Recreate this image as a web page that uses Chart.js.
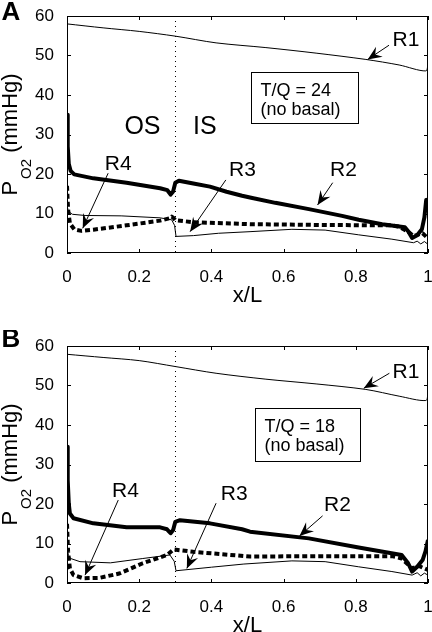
<!DOCTYPE html>
<html><head><meta charset="utf-8">
<script src="https://cdn.jsdelivr.net/npm/chart.js@4.4.0/dist/chart.umd.min.js"></script>
<style>
html,body{margin:0;padding:0;background:#fff;overflow:hidden;width:432px;height:632px;position:relative;}
.p{position:absolute;left:0;width:432px;height:330px;}
canvas{display:block;}
</style></head><body>
<div class="p" style="top:0"><canvas id="cA" width="432" height="330"></canvas></div>
<div class="p" style="top:330px"><canvas id="cB" width="432" height="330"></canvas></div>
<script>
// ---------- data ----------
const xTicks = [0, 0.2, 0.4, 0.6, 0.8, 1];
const yTicks = [0, 10, 20, 30, 40, 50, 60];

// Panel A (T/Q = 24)
const xR1A = [0, 0.1, 0.2, 0.3, 0.413, 0.551, 0.69, 0.828, 0.92, 0.994, 1.0];
const yR1A = [58, 57, 56.1, 54.9, 53.2, 52.0, 50.6, 49.0, 47.6, 46.1, 48];
const xR2A = [0, 0.002, 0.005, 0.01, 0.02, 0.073, 0.165, 0.258, 0.278, 0.287, 0.294, 0.30, 0.31, 0.35, 0.396, 0.442, 0.485, 0.51, 0.577, 0.67, 0.762, 0.808, 0.873, 0.936, 0.945, 0.956, 0.97, 0.983, 0.99, 0.995, 1.0];
const yR2A = [35, 27, 22.5, 20.8, 19.9, 18.9, 17.8, 16.4, 15.9, 14.8, 15.6, 17.8, 18.3, 17.6, 16.8, 15.5, 14.5, 14.0, 12.7, 11.1, 9.4, 8.4, 7.3, 6.5, 5.5, 3.8, 4.5, 6.0, 9, 13.4, 13.5];
const xR3A = [0, 0.004, 0.015, 0.05, 0.15, 0.258, 0.29, 0.298, 0.302, 0.35, 0.42, 0.507, 0.623, 0.715, 0.808, 0.9, 0.96, 0.97, 0.98, 0.99, 1.0];
const yR3A = [12, 10.5, 9.8, 9.5, 9.4, 8.9, 8.4, 7.0, 4.2, 4.4, 5.0, 5.4, 6.0, 5.8, 4.6, 3.5, 2.6, 3.0, 2.3, 2.9, 2.2];
const xR4A = [0, 0.003, 0.008, 0.02, 0.04, 0.073, 0.165, 0.258, 0.285, 0.29, 0.295, 0.3, 0.35, 0.507, 0.7, 0.9, 0.918, 0.945, 0.96, 0.985, 1.0];
const yR4A = [17, 11, 7.5, 6.0, 5.6, 5.9, 7.0, 8.2, 8.8, 9.2, 8.9, 8.3, 7.8, 7.3, 7.1, 7.0, 6.7, 5.4, 4.3, 5.0, 3.7];

// Panel B (T/Q = 18)
const xR1B = [0, 0.1, 0.2, 0.3, 0.413, 0.551, 0.69, 0.828, 0.92, 0.994, 1.0];
const yR1B = [57.9, 57.1, 56.3, 54.8, 53.1, 51.6, 50.4, 49.0, 47.3, 46.2, 48];
const xR2B = [0, 0.002, 0.005, 0.008, 0.018, 0.073, 0.165, 0.258, 0.277, 0.287, 0.294, 0.3, 0.313, 0.396, 0.485, 0.507, 0.67, 0.808, 0.927, 0.945, 0.956, 0.97, 0.985, 0.993, 1.0];
const yR2B = [34.5, 26, 20, 17.6, 16.4, 15.1, 14.1, 14.1, 13.6, 12.6, 13.4, 15.5, 15.9, 15.1, 13.6, 13.0, 11.3, 9.0, 7.1, 5.0, 2.9, 4.1, 5.8, 8, 10.9];
const xR3B = [0, 0.004, 0.01, 0.036, 0.12, 0.21, 0.285, 0.297, 0.302, 0.4, 0.49, 0.623, 0.715, 0.808, 0.9, 0.956, 0.97, 0.98, 0.99, 1.0];
const yR3B = [9, 7, 6.2, 5.4, 5.1, 6.2, 7.1, 5.5, 3.1, 4.0, 4.8, 5.6, 5.4, 4.1, 2.9, 2.0, 2.6, 1.8, 2.5, 2.0];
const xR4B = [0, 0.003, 0.008, 0.018, 0.045, 0.09, 0.145, 0.21, 0.277, 0.295, 0.35, 0.507, 0.7, 0.9, 0.927, 0.956, 0.975, 1.0];
const yR4B = [15, 8, 3.7, 2.0, 1.2, 1.3, 2.4, 5.0, 7.1, 8.5, 7.9, 6.7, 6.8, 6.8, 6.2, 3.7, 4.3, 3.3];

const boundaryX = 0.3;

// annotations (data coordinates)
const annA = {
  letter: 'A', letterY: 13,
  box: {x0: 0.51, x1: 0.806, yTop: 45.9, yBot: 32.8, lines: ['T/Q = 24', '(no basal)']},
  zones: [{t: 'OS', x: 0.209, y: 31.8}, {t: 'IS', x: 0.382, y: 31.8}],
  labels: [
    {t: 'R1', x: 0.939, y: 53.8, a: [0.892, 52.6, 0.833, 49.0]},
    {t: 'R4', x: 0.142, y: 22.5, a: [0.114, 20.2, 0.0435, 6.25]},
    {t: 'R3', x: 0.486, y: 20.9, a: [0.44, 18.5, 0.341, 5.4]},
    {t: 'R2', x: 0.766, y: 21.0, a: [0.736, 17.8, 0.694, 12.15]}
  ]
};
const annB = {
  letter: 'B', letterY: 10,
  box: {x0: 0.522, x1: 0.8125, yTop: 44.2, yBot: 31.0, lines: ['T/Q = 18', '(no basal)']},
  zones: [],
  labels: [
    {t: 'R1', x: 0.939, y: 53.4, a: [0.893, 53.1, 0.822, 49.3]},
    {t: 'R4', x: 0.162, y: 23.3, a: [0.142, 21.0, 0.05, 2.0]},
    {t: 'R3', x: 0.463, y: 22.5, a: [0.413, 20.2, 0.332, 3.7]},
    {t: 'R2', x: 0.749, y: 19.7, a: [0.708, 17.0, 0.644, 11.9]}
  ]
};

// ---------- drawing ----------
const FONT = '"Liberation Sans", Arial, Helvetica, sans-serif';
function pts(xs, ys) { return xs.map((x, i) => ({x: x, y: ys[i]})); }

function arrow(ctx, x0, y0, x1, y1) {
  ctx.beginPath(); ctx.moveTo(x0, y0); ctx.lineTo(x1, y1); ctx.lineWidth = 1; ctx.stroke();
  const ang = Math.atan2(y1 - y0, x1 - x0);
  const L = 14, W = 6, N = 9;
  const ux = Math.cos(ang), uy = Math.sin(ang);
  const px = -uy, py = ux;
  ctx.beginPath();
  ctx.moveTo(x1, y1);
  ctx.lineTo(x1 - ux * L + px * W, y1 - uy * L + py * W);
  ctx.lineTo(x1 - ux * N, y1 - uy * N);
  ctx.lineTo(x1 - ux * L - px * W, y1 - uy * L - py * W);
  ctx.closePath(); ctx.fill();
}

const decor = {
  id: 'decor',
  beforeDatasetsDraw(chart) {
    const {ctx, chartArea: ca, scales: {x}} = chart;
    const bx = Math.round(x.getPixelForValue(boundaryX)) + 0.5;
    ctx.save();
    ctx.strokeStyle = '#000'; ctx.lineWidth = 1; ctx.setLineDash([1, 4]);
    ctx.beginPath(); ctx.moveTo(bx, ca.top); ctx.lineTo(bx, ca.bottom); ctx.stroke();
    ctx.restore();
  },
  afterDraw(chart) {
    const {ctx, chartArea: ca, scales: {x, y}} = chart;
    const ann = chart.options.plugins.decor.ann;
    ctx.save();
    ctx.strokeStyle = '#000'; ctx.fillStyle = '#000'; ctx.lineWidth = 1; ctx.setLineDash([]);
    // frame
    ctx.strokeRect(ca.left + 0.5, ca.top + 0.5, ca.right - ca.left - 1, ca.bottom - ca.top - 1);
    // inner ticks
    const T = 4;
    ctx.beginPath();
    xTicks.forEach(v => {
      const px = Math.round(x.getPixelForValue(v)) + 0.5;
      ctx.moveTo(px, ca.bottom); ctx.lineTo(px, ca.bottom - T);
      ctx.moveTo(px, ca.top); ctx.lineTo(px, ca.top + T);
    });
    yTicks.forEach(v => {
      const py = Math.round(y.getPixelForValue(v)) + 0.5;
      ctx.moveTo(ca.left, py); ctx.lineTo(ca.left + T, py);
      ctx.moveTo(ca.right, py); ctx.lineTo(ca.right - T, py);
    });
    ctx.stroke();
    // panel letter
    ctx.font = 'bold 26px ' + FONT; ctx.textAlign = 'center'; ctx.textBaseline = 'middle';
    ctx.fillText(ann.letter, 11, ann.letterY);
    // y title with subscript, rotated
    const cy = (ca.top + ca.bottom) / 2;
    ctx.save();
    ctx.translate(17, cy); ctx.rotate(-Math.PI / 2);
    ctx.textAlign = 'left'; ctx.textBaseline = 'alphabetic';
    const fMain = '22px ' + FONT, fSub = '15px ' + FONT;
    ctx.font = fMain; const wP = ctx.measureText('P').width; const wR = ctx.measureText(' (mmHg)').width;
    ctx.font = fSub; const wS = ctx.measureText('O2').width;
    let sx = -(wP + 2 + wS + wR) / 2;
    ctx.font = fMain; ctx.fillText('P', sx, 0); sx += wP + 2;
    ctx.font = fSub; ctx.fillText('O2', sx, 14); sx += wS;
    ctx.font = fMain; ctx.fillText(' (mmHg)', sx, 0);
    ctx.restore();
    // zone labels
    ctx.font = '25px ' + FONT; ctx.textAlign = 'center'; ctx.textBaseline = 'middle';
    ann.zones.forEach(z => ctx.fillText(z.t, x.getPixelForValue(z.x), y.getPixelForValue(z.y)));
    // box
    const b = ann.box;
    const bx0 = Math.round(x.getPixelForValue(b.x0)) + 0.5, bx1 = Math.round(x.getPixelForValue(b.x1)) + 0.5;
    const by0 = Math.round(y.getPixelForValue(b.yTop)) + 0.5, by1 = Math.round(y.getPixelForValue(b.yBot)) + 0.5;
    ctx.fillStyle = '#fff'; ctx.fillRect(bx0, by0, bx1 - bx0, by1 - by0);
    ctx.fillStyle = '#000'; ctx.strokeRect(bx0, by0, bx1 - bx0, by1 - by0);
    ctx.font = '18px ' + FONT; ctx.textAlign = 'left'; ctx.textBaseline = 'alphabetic';
    ctx.fillText(b.lines[0], bx0 + 9, by0 + 23);
    ctx.fillText(b.lines[1], bx0 + 9, by0 + 42);
    // curve labels + arrows
    ctx.font = '21px ' + FONT; ctx.textAlign = 'center'; ctx.textBaseline = 'middle';
    ann.labels.forEach(l => {
      ctx.fillText(l.t, x.getPixelForValue(l.x), y.getPixelForValue(l.y));
      arrow(ctx, x.getPixelForValue(l.a[0]), y.getPixelForValue(l.a[1]), x.getPixelForValue(l.a[2]), y.getPixelForValue(l.a[3]));
    });
    ctx.restore();
  }
};

function makePanel(id, r1, r2, r3, r4, ann) {
  const ds = (data, w, dash, t) => ({
    data: data, borderColor: '#000', backgroundColor: '#000', borderWidth: w,
    borderDash: dash || [], pointRadius: 0, fill: false, tension: t || 0, borderCapStyle: 'butt', borderJoinStyle: 'round'
  });
  return new Chart(document.getElementById(id), {
    type: 'line',
    data: { datasets: [ds(r1, 1, null, 0.3), ds(r3, 1), ds(r4, 4, [5, 3]), ds(r2, 4)] },
    options: {
      responsive: false, animation: false, devicePixelRatio: 1,
      layout: { padding: { top: 16, right: 4, left: 0, bottom: 0 } },
      plugins: { legend: { display: false }, tooltip: { enabled: false }, decor: { ann: ann } },
      scales: {
        x: {
          type: 'linear', min: 0, max: 1,
          afterFit: s => { s.height = 77; s.paddingLeft = 0; s.paddingRight = 0; },
          afterBuildTicks: s => { s.ticks = xTicks.map(v => ({value: v})); },
          grid: { display: false }, border: { display: false },
          ticks: { color: '#000', font: { family: FONT, size: 17 }, padding: 6, maxRotation: 0,
                   callback: v => String(+v.toFixed(1)) },
          title: { display: true, text: 'x/L', color: '#000', font: { family: FONT, size: 22 }, padding: { top: 0, bottom: 21 } }
        },
        y: {
          min: 0, max: 60,
          afterFit: s => { s.width = 67; s.paddingTop = 0; s.paddingBottom = 0; },
          afterBuildTicks: s => { s.ticks = yTicks.map(v => ({value: v})); },
          grid: { display: false }, border: { display: false },
          ticks: { color: '#000', font: { family: FONT, size: 17 }, padding: 5 }
        }
      }
    },
    plugins: [decor]
  });
}

makePanel('cA', pts(xR1A, yR1A), pts(xR2A, yR2A), pts(xR3A, yR3A), pts(xR4A, yR4A), annA);
makePanel('cB', pts(xR1B, yR1B), pts(xR2B, yR2B), pts(xR3B, yR3B), pts(xR4B, yR4B), annB);
</script>
</body></html>
